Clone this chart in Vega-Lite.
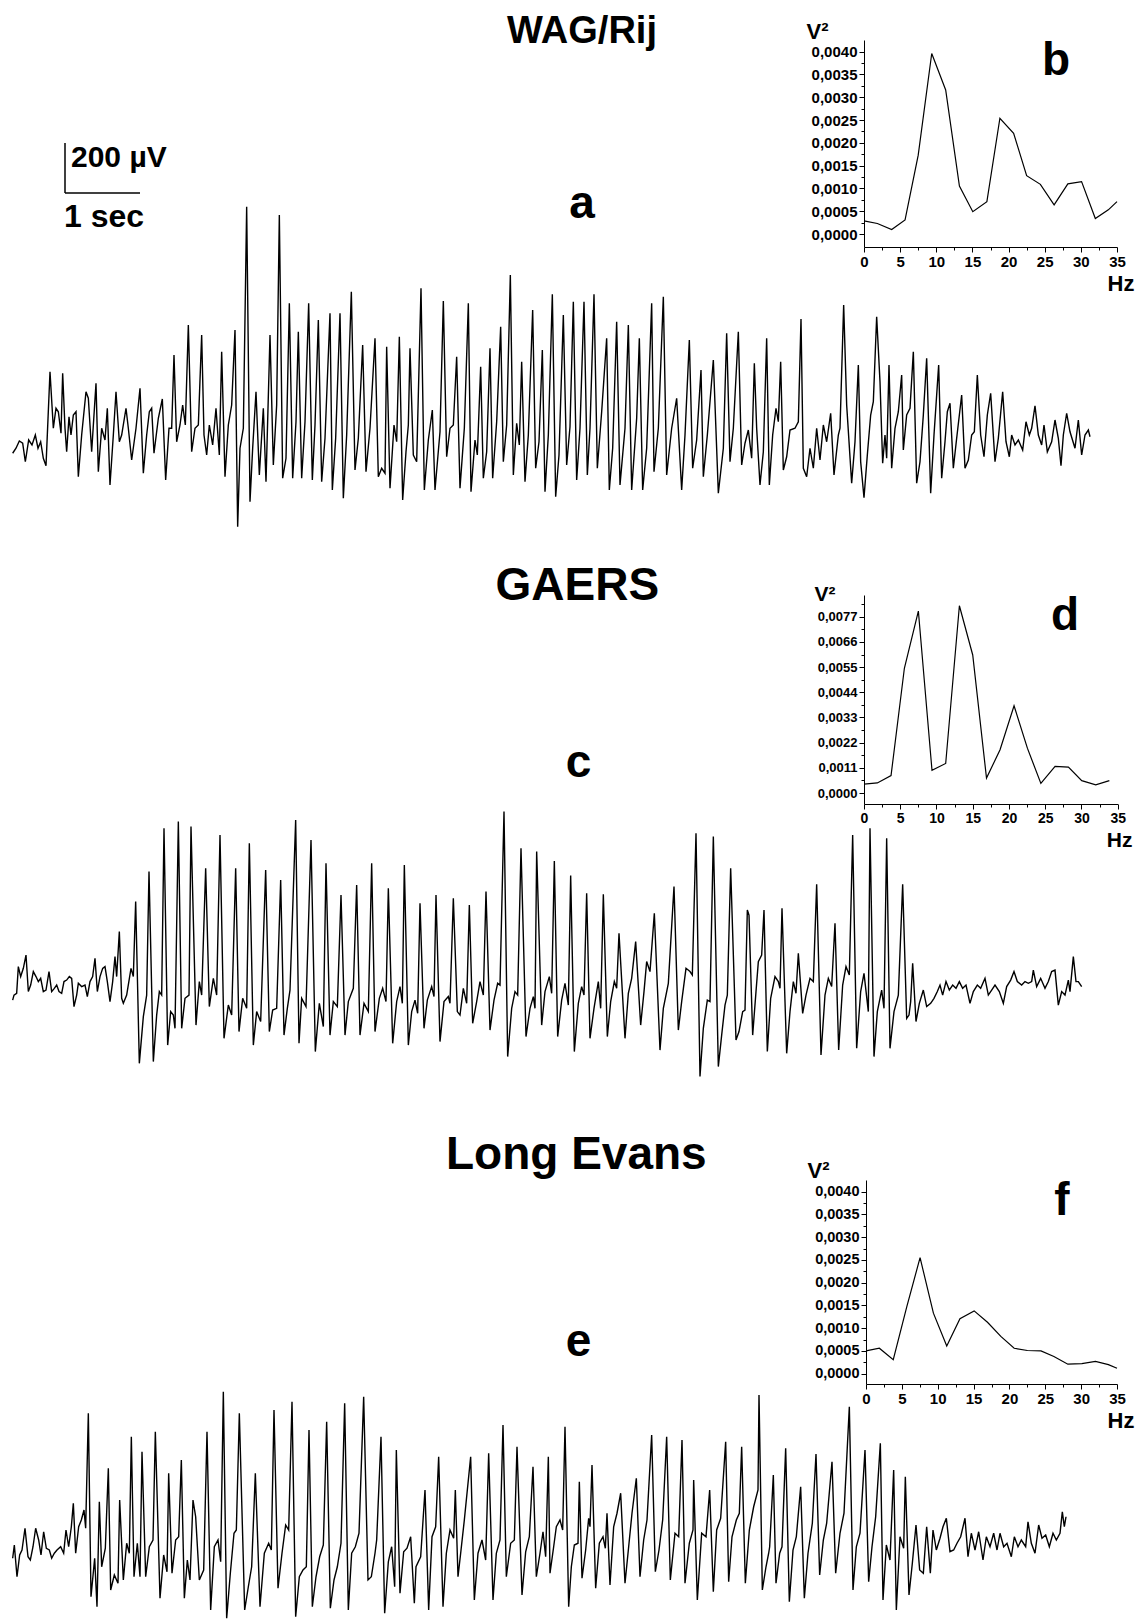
{
"$schema": "https://vega.github.io/schema/vega-lite/v6.json",
"width": 1138, "height": 1620, "padding": 0, "autosize": {"type": "none"},
"background": "white",
"config": {"view": {"stroke": null},
 "axis": {"labelFont": "Liberation Sans", "labelFontWeight": "bold", "labelColor": "black", "titleFont": "Liberation Sans", "titleFontWeight": "bold", "titleColor": "black", "domainColor": "black", "tickColor": "black", "grid": false, "labelFlush": false, "labelOverlap": false, "labelPadding": 2}},
"datasets": {
"traceA": [{"s":38,"v":-85},{"s":48,"v":-65},{"s":58,"v":-36},{"s":68,"v":-45},{"s":76,"v":-119},{"s":86,"v":-32},{"s":96,"v":-52},{"s":106,"v":-12},{"s":114,"v":-65},{"s":122,"v":-39},{"s":130,"v":-105},{"s":138,"v":-135},{"s":150,"v":241},{"s":160,"v":15},{"s":168,"v":95},{"s":175,"v":81},{"s":183,"v":-5},{"s":188,"v":235},{"s":195,"v":15},{"s":200,"v":-79},{"s":207,"v":61},{"s":213,"v":-12},{"s":220,"v":68},{"s":228,"v":81},{"s":235,"v":-179},{"s":245,"v":-12},{"s":258,"v":161},{"s":265,"v":135},{"s":275,"v":-79},{"s":288,"v":195},{"s":295,"v":-159},{"s":305,"v":15},{"s":315,"v":-32},{"s":322,"v":95},{"s":330,"v":-212},{"s":340,"v":-12},{"s":348,"v":161},{"s":358,"v":-39},{"s":365,"v":-12},{"s":378,"v":95},{"s":385,"v":15},{"s":395,"v":-112},{"s":408,"v":15},{"s":420,"v":175},{"s":430,"v":-165},{"s":440,"v":-12},{"s":448,"v":81},{"s":455,"v":95},{"s":462,"v":-85},{"s":475,"v":55},{"s":487,"v":132},{"s":497,"v":-192},{"s":507,"v":15},{"s":515,"v":15},{"s":522,"v":308},{"s":530,"v":-39},{"s":540,"v":28},{"s":548,"v":108},{"s":556,"v":28},{"s":565,"v":428},{"s":575,"v":-79},{"s":585,"v":15},{"s":595,"v":28},{"s":605,"v":388},{"s":612,"v":-12},{"s":620,"v":-92},{"s":628,"v":28},{"s":638,"v":-52},{"s":648,"v":95},{"s":658,"v":-92},{"s":665,"v":321},{"s":675,"v":-179},{"s":685,"v":28},{"s":695,"v":108},{"s":705,"v":408},{"s":713,"v":-379},{"s":720,"v":-65},{"s":730,"v":15},{"s":740,"v":901},{"s":750,"v":-279},{"s":758,"v":-65},{"s":768,"v":161},{"s":778,"v":-172},{"s":790,"v":95},{"s":798,"v":-199},{"s":810,"v":388},{"s":820,"v":-132},{"s":830,"v":108},{"s":838,"v":868},{"s":848,"v":-185},{"s":858,"v":-105},{"s":868,"v":515},{"s":878,"v":-185},{"s":888,"v":41},{"s":895,"v":401},{"s":905,"v":-185},{"s":915,"v":41},{"s":926,"v":515},{"s":937,"v":-192},{"s":945,"v":28},{"s":955,"v":448},{"s":965,"v":-199},{"s":975,"v":-25},{"s":990,"v":475},{"s":997,"v":-232},{"s":1007,"v":-25},{"s":1020,"v":475},{"s":1030,"v":-265},{"s":1040,"v":-12},{"s":1054,"v":561},{"s":1065,"v":-152},{"s":1075,"v":-25},{"s":1088,"v":348},{"s":1098,"v":-159},{"s":1110,"v":15},
{"s":1125,"v":375},{"s":1135,"v":-179},{"s":1145,"v":-145},{"s":1155,"v":-165},{"s":1160,"v":341},{"s":1170,"v":-225},{"s":1182,"v":28},{"s":1190,"v":-39},{"s":1198,"v":381},{"s":1208,"v":-272},{"s":1218,"v":-79},{"s":1225,"v":28},{"s":1230,"v":335},{"s":1240,"v":-92},{"s":1250,"v":-119},{"s":1263,"v":575},{"s":1273,"v":-232},{"s":1285,"v":-32},{"s":1297,"v":88},{"s":1305,"v":-232},{"s":1320,"v":1},{"s":1330,"v":524},{"s":1340,"v":-99},{"s":1350,"v":15},{"s":1360,"v":28},{"s":1370,"v":301},{"s":1380,"v":-225},{"s":1393,"v":15},{"s":1405,"v":515},{"s":1413,"v":-239},{"s":1425,"v":-32},{"s":1432,"v":-92},{"s":1442,"v":261},{"s":1450,"v":-185},{"s":1460,"v":-79},{"s":1470,"v":335},{"s":1478,"v":-185},{"s":1490,"v":41},{"s":1502,"v":421},{"s":1510,"v":-119},{"s":1520,"v":28},{"s":1531,"v":628},{"s":1540,"v":-172},{"s":1550,"v":35},{"s":1558,"v":-52},{"s":1565,"v":281},{"s":1575,"v":-199},{"s":1585,"v":-12},{"s":1598,"v":488},{"s":1607,"v":-145},{"s":1617,"v":-39},{"s":1627,"v":328},{"s":1635,"v":-239},{"s":1645,"v":-12},{"s":1657,"v":551},{"s":1667,"v":-259},{"s":1677,"v":-92},{"s":1690,"v":468},{"s":1700,"v":-132},{"s":1710,"v":21},{"s":1720,"v":521},{"s":1730,"v":-192},{"s":1740,"v":15},{"s":1752,"v":521},{"s":1762,"v":-172},{"s":1770,"v":15},{"s":1782,"v":551},{"s":1792,"v":-145},{"s":1805,"v":81},{"s":1820,"v":375},{"s":1828,"v":-232},{"s":1838,"v":-65},{"s":1850,"v":441},{"s":1860,"v":-212},{"s":1875,"v":15},{"s":1885,"v":428},{"s":1895,"v":-232},{"s":1910,"v":55},{"s":1918,"v":375},{"s":1928,"v":-232},{"s":1940,"v":-65},{"s":1955,"v":515},{"s":1962,"v":-159},{"s":1975,"v":15},{"s":1990,"v":541},{"s":2000,"v":-172},{"s":2015,"v":15},{"s":2030,"v":135},{"s":2045,"v":-232},{"s":2055,"v":-12},{"s":2068,"v":368},{"s":2078,"v":-145},{"s":2090,"v":-32},{"s":2103,"v":248},{"s":2110,"v":-179},{"s":2122,"v":-12},{"s":2140,"v":288},{"s":2155,"v":-245},{"s":2170,"v":-65},{"s":2180,"v":395},{"s":2190,"v":-119},{"s":2200,"v":15},{"s":2215,"v":401},
{"s":2225,"v":-132},{"s":2235,"v":-45},{"s":2245,"v":8},{"s":2255,"v":-105},{"s":2263,"v":275},{"s":2270,"v":15},{"s":2280,"v":-212},{"s":2290,"v":-79},{"s":2300,"v":375},{"s":2308,"v":-212},{"s":2318,"v":-12},{"s":2328,"v":95},{"s":2335,"v":41},{"s":2342,"v":281},{"s":2350,"v":-152},{"s":2360,"v":-99},{"s":2370,"v":8},{"s":2385,"v":15},{"s":2395,"v":41},{"s":2403,"v":452},{"s":2410,"v":-145},{"s":2420,"v":-179},{"s":2430,"v":-65},{"s":2440,"v":-145},{"s":2450,"v":15},{"s":2460,"v":-112},{"s":2470,"v":28},{"s":2480,"v":-39},{"s":2492,"v":75},{"s":2502,"v":-172},{"s":2515,"v":-12},{"s":2520,"v":15},{"s":2531,"v":508},{"s":2540,"v":108},{"s":2555,"v":-205},{"s":2565,"v":-39},{"s":2575,"v":268},{"s":2582,"v":-119},{"s":2592,"v":-263},{"s":2602,"v":-92},{"s":2612,"v":68},{"s":2620,"v":121},{"s":2630,"v":461},{"s":2640,"v":201},{"s":2648,"v":-125},{"s":2655,"v":-12},{"s":2660,"v":-105},{"s":2667,"v":268},{"s":2675,"v":-145},{"s":2685,"v":15},{"s":2695,"v":81},{"s":2705,"v":228},{"s":2710,"v":-72},{"s":2720,"v":68},{"s":2730,"v":95},{"s":2740,"v":321},{"s":2750,"v":-205},{"s":2760,"v":-119},{"s":2770,"v":68},{"s":2780,"v":295},{"s":2792,"v":-245},{"s":2802,"v":-12},{"s":2816,"v":268},{"s":2825,"v":-185},{"s":2835,"v":-39},{"s":2842,"v":81},{"s":2850,"v":115},{"s":2860,"v":-145},{"s":2870,"v":-25},{"s":2885,"v":148},{"s":2895,"v":-145},{"s":2905,"v":-112},{"s":2915,"v":-12},{"s":2923,"v":1},{"s":2932,"v":228},{"s":2942,"v":-12},{"s":2952,"v":-99},{"s":2962,"v":68},{"s":2972,"v":155},{"s":2985,"v":-119},{"s":2995,"v":-25},{"s":3008,"v":161},{"s":3018,"v":-39},{"s":3028,"v":-99},{"s":3035,"v":-12},{"s":3045,"v":-52},{"s":3055,"v":-32},{"s":3068,"v":-72},{"s":3078,"v":41},{"s":3088,"v":-12},{"s":3095,"v":15},{"s":3105,"v":105},{"s":3115,"v":-12},{"s":3125,"v":-52},{"s":3132,"v":28},{"s":3142,"v":-79},{"s":3155,"v":-39},{"s":3165,"v":48},{"s":3175,"v":-25},{"s":3183,"v":-135},{"s":3190,"v":-12},{"s":3200,"v":75},{"s":3210,"v":1},{"s":3225,"v":-65},{"s":3235,"v":48},{"s":3245,"v":-92},{"s":3255,"v":-12},{"s":3265,"v":8},{"s":3270,"v":-19}],
"traceC": [{"s":38,"v":-47},{"s":42,"v":-27},{"s":50,"v":-20},{"s":55,"v":87},{"s":62,"v":47},{"s":70,"v":80},{"s":78,"v":133},{"s":85,"v":-13},{"s":92,"v":13},{"s":100,"v":67},{"s":108,"v":47},{"s":115,"v":27},{"s":122,"v":40},{"s":130,"v":-13},{"s":138,"v":-7},{"s":147,"v":67},{"s":155,"v":-13},{"s":163,"v":0},{"s":170,"v":13},{"s":177,"v":-13},{"s":185,"v":-20},{"s":192,"v":27},{"s":200,"v":33},{"s":208,"v":47},{"s":215,"v":40},{"s":222,"v":-73},{"s":230,"v":-27},{"s":235,"v":20},{"s":245,"v":7},{"s":255,"v":13},{"s":262,"v":-33},{"s":270,"v":27},{"s":278,"v":47},{"s":285,"v":120},{"s":292,"v":-13},{"s":300,"v":47},{"s":308,"v":80},{"s":315,"v":87},{"s":322,"v":27},{"s":330,"v":-53},{"s":338,"v":27},{"s":345,"v":127},{"s":350,"v":47},{"s":358,"v":227},{"s":365,"v":-40},{"s":370,"v":-60},{"s":380,"v":-27},{"s":393,"v":80},{"s":400,"v":47},{"s":407,"v":347},{"s":418,"v":-300},{"s":430,"v":-113},{"s":440,"v":-27},{"s":447,"v":467},{"s":460,"v":-293},{"s":470,"v":-107},{"s":478,"v":-13},{"s":485,"v":-27},{"s":492,"v":640},{"s":503,"v":-227},{"s":512,"v":-93},{"s":520,"v":-107},{"s":525,"v":-160},{"s":535,"v":667},{"s":545,"v":-160},{"s":555,"v":-40},{"s":567,"v":-27},{"s":573,"v":647},{"s":588,"v":-147},{"s":598,"v":27},{"s":605,"v":-27},{"s":617,"v":480},{"s":628,"v":-73},{"s":640,"v":40},{"s":650,"v":-27},{"s":660,"v":613},{"s":672,"v":-200},{"s":685,"v":-67},{"s":695,"v":-107},{"s":707,"v":480},{"s":717,"v":-173},{"s":728,"v":-40},{"s":740,"v":-80},{"s":748,"v":580},{"s":760,"v":-227},{"s":770,"v":-93},{"s":782,"v":-133},{"s":797,"v":473},{"s":808,"v":-173},{"s":818,"v":-87},{"s":830,"v":-80},{"s":842,"v":433},{"s":852,"v":-187},{"s":862,"v":-80},{"s":870,"v":-7},{"s":887,"v":673},{"s":897,"v":-220},{"s":905,"v":-40},{"s":918,"v":-73},{"s":933,"v":593},{"s":946,"v":-253},{"s":958,"v":-60},{"s":970,"v":-153},{"s":978,"v":500},{"s":990,"v":-187},{"s":1000,"v":-53},{"s":1012,"v":-73},{"s":1023,"v":373},{"s":1035,"v":-187},{"s":1045,"v":-53},{"s":1060,"v":0},{"s":1070,"v":413},{"s":1080,"v":-187},{"s":1092,"v":-60},{"s":1105,"v":-93},
{"s":1115,"v":500},{"s":1125,"v":-173},{"s":1138,"v":-40},{"s":1148,"v":0},{"s":1158,"v":-53},{"s":1165,"v":400},{"s":1178,"v":-220},{"s":1190,"v":-53},{"s":1200,"v":7},{"s":1207,"v":-60},{"s":1213,"v":493},{"s":1225,"v":-227},{"s":1235,"v":-93},{"s":1245,"v":-47},{"s":1253,"v":-100},{"s":1260,"v":340},{"s":1272,"v":-160},{"s":1282,"v":-47},{"s":1295,"v":7},{"s":1302,"v":-33},{"s":1308,"v":373},{"s":1320,"v":-213},{"s":1332,"v":-53},{"s":1345,"v":-33},{"s":1350,"v":-60},{"s":1360,"v":360},{"s":1372,"v":-93},{"s":1380,"v":-107},{"s":1390,"v":0},{"s":1400,"v":-60},{"s":1408,"v":333},{"s":1418,"v":-140},{"s":1430,"v":-53},{"s":1440,"v":27},{"s":1450,"v":-27},{"s":1458,"v":387},{"s":1470,"v":-167},{"s":1482,"v":-47},{"s":1493,"v":20},{"s":1500,"v":13},{"s":1512,"v":707},{"s":1523,"v":-273},{"s":1535,"v":-80},{"s":1545,"v":-13},{"s":1553,"v":-27},{"s":1563,"v":560},{"s":1578,"v":-193},{"s":1590,"v":-80},{"s":1600,"v":-33},{"s":1605,"v":-80},{"s":1610,"v":547},{"s":1625,"v":-147},{"s":1635,"v":-13},{"s":1648,"v":47},{"s":1655,"v":-20},{"s":1663,"v":509},{"s":1673,"v":-193},{"s":1685,"v":-47},{"s":1695,"v":20},{"s":1705,"v":-67},{"s":1712,"v":451},{"s":1723,"v":-253},{"s":1735,"v":-60},{"s":1745,"v":7},{"s":1752,"v":-27},{"s":1760,"v":380},{"s":1770,"v":-200},{"s":1782,"v":-80},{"s":1795,"v":27},{"s":1802,"v":-80},{"s":1810,"v":376},{"s":1822,"v":-193},{"s":1832,"v":-53},{"s":1843,"v":27},{"s":1850,"v":0},{"s":1857,"v":220},{"s":1875,"v":-200},{"s":1885,"v":-20},{"s":1895,"v":40},{"s":1907,"v":187},{"s":1922,"v":-147},{"s":1932,"v":-13},{"s":1940,"v":107},{"s":1950,"v":67},{"s":1963,"v":300},{"s":1980,"v":-247},{"s":1990,"v":-80},{"s":2005,"v":20},{"s":2022,"v":407},{"s":2035,"v":-167},{"s":2045,"v":-53},{"s":2058,"v":80},{"s":2070,"v":67},{"s":2077,"v":53},{"s":2088,"v":620},{"s":2100,"v":-353},{"s":2110,"v":-160},{"s":2122,"v":-47},{"s":2130,"v":-53},{"s":2140,"v":607},{"s":2155,"v":-313},{"s":2165,"v":-187},{"s":2175,"v":-67},{"s":2182,"v":-27},{"s":2192,"v":480},{"s":2208,"v":-207},{"s":2217,"v":-173},{"s":2228,"v":-93},{"s":2235,"v":-87},
{"s":2242,"v":313},{"s":2247,"v":293},{"s":2258,"v":-187},{"s":2268,"v":-13},{"s":2275,"v":107},{"s":2285,"v":133},{"s":2292,"v":313},{"s":2302,"v":-253},{"s":2312,"v":-40},{"s":2325,"v":47},{"s":2335,"v":27},{"s":2340,"v":0},{"s":2346,"v":320},{"s":2360,"v":-260},{"s":2370,"v":-93},{"s":2380,"v":27},{"s":2388,"v":-20},{"s":2395,"v":140},{"s":2408,"v":-100},{"s":2418,"v":-27},{"s":2430,"v":40},{"s":2440,"v":27},{"s":2450,"v":416},{"s":2463,"v":-267},{"s":2475,"v":-27},{"s":2485,"v":40},{"s":2495,"v":7},{"s":2505,"v":260},{"s":2516,"v":-247},{"s":2528,"v":13},{"s":2538,"v":87},{"s":2548,"v":53},{"s":2558,"v":613},{"s":2570,"v":-240},{"s":2582,"v":-13},{"s":2592,"v":60},{"s":2605,"v":-93},{"s":2610,"v":640},{"s":2622,"v":-273},{"s":2632,"v":-93},{"s":2645,"v":-7},{"s":2652,"v":-80},{"s":2660,"v":600},{"s":2670,"v":-240},{"s":2682,"v":-93},{"s":2695,"v":-27},{"s":2708,"v":416},{"s":2720,"v":-120},{"s":2727,"v":-107},{"s":2732,"v":-53},{"s":2738,"v":100},{"s":2748,"v":-133},{"s":2758,"v":-60},{"s":2770,"v":-7},{"s":2780,"v":-73},{"s":2792,"v":-60},{"s":2802,"v":-40},{"s":2812,"v":-13},{"s":2820,"v":13},{"s":2828,"v":-27},{"s":2838,"v":27},{"s":2848,"v":-7},{"s":2858,"v":13},{"s":2868,"v":0},{"s":2878,"v":27},{"s":2888,"v":0},{"s":2898,"v":13},{"s":2910,"v":-60},{"s":2920,"v":-13},{"s":2932,"v":13},{"s":2942,"v":0},{"s":2955,"v":40},{"s":2965,"v":-27},{"s":2975,"v":-7},{"s":2985,"v":13},{"s":2998,"v":-13},{"s":3010,"v":-60},{"s":3020,"v":7},{"s":3032,"v":33},{"s":3042,"v":67},{"s":3052,"v":27},{"s":3065,"v":13},{"s":3075,"v":27},{"s":3085,"v":20},{"s":3095,"v":27},{"s":3100,"v":73},{"s":3110,"v":7},{"s":3122,"v":40},{"s":3135,"v":0},{"s":3145,"v":27},{"s":3155,"v":67},{"s":3165,"v":73},{"s":3175,"v":-67},{"s":3185,"v":-13},{"s":3195,"v":-27},{"s":3205,"v":33},{"s":3210,"v":-13},{"s":3220,"v":127},{"s":3228,"v":27},{"s":3235,"v":27},{"s":3245,"v":7}],
"traceE": [{"s":38,"v":-33},{"s":43,"v":20},{"s":51,"v":-107},{"s":59,"v":-20},{"s":66,"v":0},{"s":75,"v":87},{"s":84,"v":-27},{"s":91,"v":-40},{"s":99,"v":13},{"s":107,"v":87},{"s":116,"v":40},{"s":123,"v":-20},{"s":131,"v":73},{"s":139,"v":7},{"s":148,"v":0},{"s":155,"v":-33},{"s":163,"v":-13},{"s":171,"v":0},{"s":182,"v":13},{"s":191,"v":-13},{"s":198,"v":80},{"s":206,"v":13},{"s":214,"v":93},{"s":220,"v":187},{"s":227,"v":-13},{"s":236,"v":93},{"s":244,"v":120},{"s":252,"v":160},{"s":257,"v":87},{"s":265,"v":547},{"s":273,"v":-187},{"s":284,"v":-33},{"s":291,"v":-227},{"s":298,"v":193},{"s":305,"v":-67},{"s":316,"v":7},{"s":325,"v":327},{"s":332,"v":-160},{"s":343,"v":-100},{"s":354,"v":-133},{"s":359,"v":200},{"s":370,"v":-120},{"s":380,"v":27},{"s":388,"v":-13},{"s":394,"v":453},{"s":402,"v":-107},{"s":412,"v":27},{"s":420,"v":-107},{"s":426,"v":393},{"s":437,"v":-107},{"s":448,"v":13},{"s":459,"v":40},{"s":466,"v":473},{"s":480,"v":-193},{"s":491,"v":-20},{"s":501,"v":-87},{"s":506,"v":307},{"s":516,"v":-93},{"s":527,"v":40},{"s":536,"v":53},{"s":544,"v":360},{"s":553,"v":-193},{"s":562,"v":-40},{"s":570,"v":-120},{"s":579,"v":200},{"s":587,"v":133},{"s":598,"v":-120},{"s":611,"v":-80},{"s":621,"v":473},{"s":632,"v":-240},{"s":643,"v":13},{"s":654,"v":40},{"s":662,"v":-47},{"s":670,"v":633},{"s":680,"v":-273},{"s":691,"v":-93},{"s":702,"v":67},{"s":709,"v":80},{"s":718,"v":547},{"s":734,"v":-240},{"s":745,"v":-147},{"s":755,"v":-67},{"s":766,"v":307},{"s":780,"v":-227},{"s":793,"v":-13},{"s":806,"v":27},{"s":814,"v":0},{"s":822,"v":560},{"s":834,"v":-153},{"s":846,"v":-13},{"s":857,"v":100},{"s":866,"v":80},{"s":876,"v":593},{"s":887,"v":-267},{"s":898,"v":-107},{"s":909,"v":-80},{"s":919,"v":-67},{"s":927,"v":480},{"s":937,"v":-227},{"s":948,"v":-107},{"s":959,"v":-27},{"s":970,"v":20},{"s":980,"v":513},{"s":991,"v":-233},{"s":1002,"v":-120},{"s":1012,"v":-67},{"s":1023,"v":27},{"s":1034,"v":587},{"s":1045,"v":-240},{"s":1055,"v":-13},{"s":1066,"v":13},{"s":1077,"v":67},{"s":1091,"v":613},{"s":1104,"v":-120},{"s":1114,"v":-107},{"s":1125,"v":-13},{"s":1130,"v":40},{"s":1143,"v":453},{"s":1154,"v":-253},{"s":1165,"v":-47},{"s":1175,"v":13},{"s":1184,"v":-147},{"s":1189,"v":400},{"s":1200,"v":-173},{"s":1211,"v":-7},{"s":1221,"v":7},{"s":1232,"v":53},{"s":1243,"v":-213},{"s":1248,"v":-67},{"s":1262,"v":-27},{"s":1275,"v":240},{"s":1286,"v":-240},{"s":1296,"v":53},{"s":1307,"v":93},{"s":1316,"v":373},{"s":1329,"v":-227},{"s":1339,"v":-13},{"s":1350,"v":80},{"s":1361,"v":47},{"s":1366,"v":240},{"s":1374,"v":-107},{"s":1382,"v":-13},{"s":1393,"v":120},{"s":1412,"v":373},{"s":1423,"v":-200},{"s":1434,"v":-13},{"s":1446,"v":40},{"s":1457,"v":-40},{"s":1466,"v":387},{"s":1479,"v":-200},{"s":1489,"v":-13},{"s":1500,"v":40},{"s":1509,"v":500},{"s":1519,"v":-107},{"s":1532,"v":27},{"s":1543,"v":40},{"s":1551,"v":413},{"s":1566,"v":-180},{"s":1577,"v":-7},{"s":1588,"v":53},{"s":1599,"v":333},{"s":1609,"v":-107},{"s":1620,"v":-13},{"s":1629,"v":73},{"s":1637,"v":-27},{"s":1645,"v":373},
{"s":1650,"v":-93},{"s":1661,"v":13},{"s":1669,"v":93},{"s":1680,"v":120},{"s":1688,"v":80},{"s":1695,"v":493},{"s":1706,"v":-227},{"s":1714,"v":-67},{"s":1723,"v":20},{"s":1734,"v":27},{"s":1738,"v":273},{"s":1746,"v":-113},{"s":1757,"v":0},{"s":1766,"v":127},{"s":1770,"v":93},{"s":1776,"v":340},{"s":1787,"v":-153},{"s":1798,"v":27},{"s":1809,"v":53},{"s":1816,"v":7},{"s":1821,"v":147},{"s":1830,"v":-140},{"s":1841,"v":93},{"s":1851,"v":147},{"s":1862,"v":227},{"s":1875,"v":-133},{"s":1886,"v":13},{"s":1896,"v":147},{"s":1909,"v":287},{"s":1920,"v":-107},{"s":1931,"v":40},{"s":1941,"v":120},{"s":1955,"v":460},{"s":1966,"v":-87},{"s":1977,"v":0},{"s":1988,"v":120},{"s":2000,"v":453},{"s":2011,"v":-120},{"s":2025,"v":67},{"s":2036,"v":53},{"s":2046,"v":440},{"s":2055,"v":-133},{"s":2068,"v":27},{"s":2079,"v":80},{"s":2081,"v":280},{"s":2092,"v":-200},{"s":2105,"v":67},{"s":2118,"v":53},{"s":2129,"v":240},{"s":2140,"v":-167},{"s":2150,"v":80},{"s":2162,"v":127},{"s":2177,"v":433},{"s":2186,"v":-127},{"s":2196,"v":53},{"s":2209,"v":120},{"s":2218,"v":147},{"s":2225,"v":413},{"s":2236,"v":-133},{"s":2248,"v":80},{"s":2261,"v":173},{"s":2274,"v":240},{"s":2277,"v":620},{"s":2287,"v":-160},{"s":2298,"v":-67},{"s":2306,"v":-13},{"s":2309,"v":13},{"s":2320,"v":300},{"s":2328,"v":-133},{"s":2339,"v":-13},{"s":2346,"v":13},{"s":2357,"v":407},{"s":2368,"v":-207},{"s":2379,"v":0},{"s":2389,"v":53},{"s":2402,"v":253},{"s":2413,"v":-193},{"s":2424,"v":-13},{"s":2437,"v":107},{"s":2448,"v":384},{"s":2459,"v":-100},{"s":2470,"v":40},{"s":2480,"v":107},{"s":2496,"v":353},{"s":2507,"v":-93},{"s":2520,"v":67},{"s":2532,"v":147},{"s":2548,"v":573},{"s":2559,"v":-160},{"s":2569,"v":13},{"s":2580,"v":67},{"s":2595,"v":400},{"s":2606,"v":-127},{"s":2616,"v":13},{"s":2627,"v":133},{"s":2641,"v":427},{"s":2649,"v":-200},{"s":2659,"v":20},{"s":2670,"v":-40},{"s":2681,"v":320},{"s":2689,"v":-240},{"s":2700,"v":53},{"s":2711,"v":7},{"s":2716,"v":293},{"s":2727,"v":-180},{"s":2737,"v":-53},{"s":2748,"v":100},{"s":2759,"v":-80},{"s":2770,"v":-93},{"s":2780,"v":93},{"s":2791,"v":-93},{"s":2799,"v":80},{"s":2809,"v":0},{"s":2820,"v":47},{"s":2829,"v":93},{"s":2839,"v":127},{"s":2850,"v":-7},{"s":2861,"v":0},{"s":2871,"v":27},{"s":2882,"v":53},{"s":2895,"v":127},{"s":2904,"v":-27},{"s":2914,"v":67},{"s":2925,"v":0},{"s":2936,"v":73},{"s":2949,"v":-40},{"s":2959,"v":53},{"s":2970,"v":13},{"s":2981,"v":67},{"s":2991,"v":0},{"s":3000,"v":67},{"s":3011,"v":13},{"s":3021,"v":27},{"s":3034,"v":-27},{"s":3043,"v":53},{"s":3054,"v":13},{"s":3064,"v":40},{"s":3077,"v":13},{"s":3084,"v":113},{"s":3094,"v":27},{"s":3105,"v":-13},{"s":3116,"v":100},{"s":3126,"v":47},{"s":3137,"v":60},{"s":3148,"v":13},{"s":3159,"v":67},{"s":3169,"v":40},{"s":3180,"v":67},{"s":3187,"v":153},{"s":3193,"v":93},{"s":3198,"v":133}],
"specB": [{"hz":0,"p":0.00029},{"hz":1.85,"p":0.00023},{"hz":3.83,"p":0.0001},{"hz":5.68,"p":0.00031},{"hz":7.5,"p":0.00173},{"hz":9.37,"p":0.00396},{"hz":11.3,"p":0.00316},{"hz":13.2,"p":0.00105},{"hz":15.05,"p":0.00049},{"hz":17,"p":0.00071},{"hz":18.8,"p":0.00254},{"hz":20.7,"p":0.00221},{"hz":22.5,"p":0.00128},{"hz":24.4,"p":0.00109},{"hz":26.3,"p":0.00064},{"hz":28.2,"p":0.0011},{"hz":30.1,"p":0.00115},{"hz":32,"p":0.00034},{"hz":33.8,"p":0.00053},{"hz":35,"p":0.00071}],
"specD": [{"hz":0,"p":0.00039},{"hz":1.84,"p":0.00044},{"hz":3.73,"p":0.00076},{"hz":5.57,"p":0.00545},{"hz":7.5,"p":0.00795},{"hz":9.38,"p":0.00099},{"hz":11.27,"p":0.00129},{"hz":13.16,"p":0.00818},{"hz":15,"p":0.00603},{"hz":16.9,"p":0.00065},{"hz":18.77,"p":0.00189},{"hz":20.7,"p":0.00381},{"hz":22.54,"p":0.00196},{"hz":24.4,"p":0.00042},{"hz":26.36,"p":0.00116},{"hz":28.2,"p":0.00113},{"hz":30.04,"p":0.00054},{"hz":31.97,"p":0.00036},{"hz":33.85,"p":0.00054}],
"specF": [{"hz":0,"p":0.0005},{"hz":1.86,"p":0.00056},{"hz":3.8,"p":0.00031},{"hz":5.7,"p":0.00148},{"hz":7.54,"p":0.00255},{"hz":9.4,"p":0.00133},{"hz":11.26,"p":0.00061},{"hz":13.1,"p":0.00121},{"hz":15.08,"p":0.00138},{"hz":16.94,"p":0.00113},{"hz":18.8,"p":0.00082},{"hz":20.66,"p":0.00056},{"hz":22.5,"p":0.00051},{"hz":24.4,"p":0.0005},{"hz":26.2,"p":0.00038},{"hz":28.15,"p":0.00021},{"hz":30.1,"p":0.00022},{"hz":32,"p":0.00027},{"hz":33.8,"p":0.0002},{"hz":35,"p":0.00012}],
"scalebar": [{"s1":195,"s2":195,"v1":956,"v2":1156},{"s1":195,"s2":420,"v1":956,"v2":956}]
},
"layer": [
{"layer": [
 {"data": {"name": "traceA"}, "mark": {"type": "line", "color": "black", "strokeWidth": 1.4},
  "encoding": {"x": {"field": "s", "type": "quantitative", "scale": {"domain": [0, 3414], "nice": false, "zero": false}, "axis": null},
   "y": {"field": "v", "type": "quantitative", "scale": {"domain": [-400, 928], "range": [532, 200], "nice": false, "zero": false}, "axis": null}}},
 {"data": {"name": "scalebar"}, "mark": {"type": "rule", "color": "black", "strokeWidth": 1.5},
  "encoding": {"x": {"field": "s1", "type": "quantitative", "axis": null}, "x2": {"field": "s2"}, "y": {"field": "v1", "type": "quantitative", "axis": null}, "y2": {"field": "v2"}}},
 {"data": {"values": [{}]}, "mark": {"type": "text", "text": "WAG/Rij", "font": "Liberation Sans", "fontWeight": "bold", "fontSize": 38, "align": "center", "baseline": "alphabetic"},
  "encoding": {"x": {"datum": 1746, "type": "quantitative", "axis": null}, "y": {"datum": 1556, "type": "quantitative", "axis": null}}},
 {"data": {"values": [{}]}, "mark": {"type": "text", "text": "a", "font": "Liberation Sans", "fontWeight": "bold", "fontSize": 46, "align": "center", "baseline": "alphabetic"},
  "encoding": {"x": {"datum": 1746, "type": "quantitative", "axis": null}, "y": {"datum": 856, "type": "quantitative", "axis": null}}},
 {"data": {"values": [{}]}, "mark": {"type": "text", "text": "200 µV", "font": "Liberation Sans", "fontWeight": "bold", "fontSize": 30, "align": "left", "baseline": "alphabetic"},
  "encoding": {"x": {"datum": 213, "type": "quantitative", "axis": null}, "y": {"datum": 1060, "type": "quantitative", "axis": null}}},
 {"data": {"values": [{}]}, "mark": {"type": "text", "text": "1 sec", "font": "Liberation Sans", "fontWeight": "bold", "fontSize": 32, "align": "left", "baseline": "alphabetic"},
  "encoding": {"x": {"datum": 192, "type": "quantitative", "axis": null}, "y": {"datum": 820, "type": "quantitative", "axis": null}}}
]},
{"data": {"name": "specB"}, "mark": {"type": "line", "color": "black", "strokeWidth": 1.2},
  "encoding": {
   "x": {"field": "hz", "type": "quantitative", "scale": {"domain": [0, 35], "range": [864, 1117], "nice": false, "zero": false},
    "axis": {"orient": "bottom", "offset": -1373, "values": [0,5,10,15,20,25,30,35], "labelExpr": "format(datum.value, 'd')", "tickSize": 5, "labelFontSize": 15, "title": "Hz", "titleX": 1134, "titleY": 43, "titleAlign": "right", "titleBaseline": "alphabetic", "titleFontSize": 22}},
   "y": {"field": "p", "type": "quantitative", "scale": {"domain": [-0.000285, 0.004256], "range": [247, 40], "nice": false, "zero": false},
    "axis": {"orient": "left", "offset": -864, "values": [0,0.0005,0.001,0.0015,0.002,0.0025,0.003,0.0035,0.004], "labelExpr": "replace(format(datum.value, '.4f'), '.', ',')", "tickSize": 5, "labelFontSize": 15, "title": "V²", "titleAngle": 0, "titleX": -58, "titleY": 38, "titleAlign": "left", "titleBaseline": "alphabetic", "titleFontSize": 22}}}},
{"data": {"name": "specB"}, "mark": {"type": "line", "opacity": 0},
  "encoding": {
   "x": {"field": "hz", "type": "quantitative", "scale": {"domain": [0, 35], "range": [864, 1117], "nice": false, "zero": false},
    "axis": {"orient": "bottom", "offset": -1373, "values": [2.5,7.5,12.5,17.5,22.5,27.5,32.5], "labels": false, "domain": false, "tickSize": 3, "title": null}},
   "y": {"field": "p", "type": "quantitative", "scale": {"domain": [-0.000285, 0.004256], "range": [247, 40], "nice": false, "zero": false},
    "axis": {"orient": "left", "offset": -864, "values": [0.00025,0.00075,0.00125,0.00175,0.00225,0.00275,0.00325,0.00375], "labels": false, "domain": false, "tickSize": 3, "title": null}}}},
{"data": {"values": [{}]}, "mark": {"type": "text", "text": "b", "font": "Liberation Sans", "fontWeight": "bold", "fontSize": 46, "align": "center", "baseline": "alphabetic"},
  "encoding": {"x": {"datum": 26.56, "type": "quantitative", "scale": {"domain": [0, 35], "range": [864, 1117], "nice": false, "zero": false}, "axis": null},
   "y": {"datum": 0.003488, "type": "quantitative", "scale": {"domain": [-0.000285, 0.004256], "range": [247, 40], "nice": false, "zero": false}, "axis": null}}},
{"layer": [
 {"data": {"name": "traceC"}, "mark": {"type": "line", "color": "black", "strokeWidth": 1.4},
  "encoding": {"x": {"field": "s", "type": "quantitative", "scale": {"domain": [0, 3414], "nice": false, "zero": false}, "axis": null},
   "y": {"field": "v", "type": "quantitative", "scale": {"domain": [-406.7, 753.3], "range": [1090, 800], "nice": false, "zero": false}, "axis": null}}},
 {"data": {"values": [{}]}, "mark": {"type": "text", "text": "GAERS", "font": "Liberation Sans", "fontWeight": "bold", "fontSize": 46, "align": "center", "baseline": "alphabetic"},
  "encoding": {"x": {"datum": 1732, "type": "quantitative", "axis": null}, "y": {"datum": 1555, "type": "quantitative", "axis": null}}},
 {"data": {"values": [{}]}, "mark": {"type": "text", "text": "c", "font": "Liberation Sans", "fontWeight": "bold", "fontSize": 46, "align": "center", "baseline": "alphabetic"},
  "encoding": {"x": {"datum": 1736, "type": "quantitative", "axis": null}, "y": {"datum": 844, "type": "quantitative", "axis": null}}}
]},
{"data": {"name": "specD"}, "mark": {"type": "line", "color": "black", "strokeWidth": 1.2},
  "encoding": {
   "x": {"field": "hz", "type": "quantitative", "scale": {"domain": [0, 35], "range": [864, 1117.7], "nice": false, "zero": false},
    "axis": {"orient": "bottom", "offset": -816, "values": [0,5,10,15,20,25,30,35], "labelExpr": "format(datum.value, 'd')", "tickSize": 5, "labelFontSize": 14, "title": "Hz", "titleX": 1132, "titleY": 42, "titleAlign": "right", "titleBaseline": "alphabetic", "titleFontSize": 21}},
   "y": {"field": "p", "type": "quantitative", "scale": {"domain": [-0.00048, 0.00865], "range": [804, 595], "nice": false, "zero": false},
    "axis": {"orient": "left", "offset": -864, "values": [0,0.0011,0.0022,0.0033,0.0044,0.0055,0.0066,0.0077], "labelExpr": "replace(format(datum.value, '.4f'), '.', ',')", "tickSize": 5, "labelFontSize": 13, "title": "V²", "titleAngle": 0, "titleX": -50, "titleY": 600, "titleAlign": "left", "titleBaseline": "alphabetic", "titleFontSize": 21}}}},
{"data": {"name": "specD"}, "mark": {"type": "line", "opacity": 0},
  "encoding": {
   "x": {"field": "hz", "type": "quantitative", "scale": {"domain": [0, 35], "range": [864, 1117.7], "nice": false, "zero": false},
    "axis": {"orient": "bottom", "offset": -816, "values": [2.5,7.5,12.5,17.5,22.5,27.5,32.5], "labels": false, "domain": false, "tickSize": 3, "title": null}},
   "y": {"field": "p", "type": "quantitative", "scale": {"domain": [-0.00048, 0.00865], "range": [804, 595], "nice": false, "zero": false},
    "axis": {"orient": "left", "offset": -864, "values": [0.00055,0.00165,0.00275,0.00385,0.00495,0.00605,0.00715,0.00825], "labels": false, "domain": false, "tickSize": 3, "title": null}}}},
{"data": {"values": [{}]}, "mark": {"type": "text", "text": "d", "font": "Liberation Sans", "fontWeight": "bold", "fontSize": 46, "align": "center", "baseline": "alphabetic"},
  "encoding": {"x": {"datum": 27.73, "type": "quantitative", "scale": {"domain": [0, 35], "range": [864, 1117.7], "nice": false, "zero": false}, "axis": null},
   "y": {"datum": 0.007115, "type": "quantitative", "scale": {"domain": [-0.00048, 0.00865], "range": [804, 595], "nice": false, "zero": false}, "axis": null}}},
{"layer": [
 {"data": {"name": "traceE"}, "mark": {"type": "line", "color": "black", "strokeWidth": 1.4},
  "encoding": {"x": {"field": "s", "type": "quantitative", "scale": {"domain": [0, 3414], "nice": false, "zero": false}, "axis": null},
   "y": {"field": "v", "type": "quantitative", "scale": {"domain": [-280, 680], "range": [1620, 1380], "nice": false, "zero": false}, "axis": null}}},
 {"data": {"values": [{}]}, "mark": {"type": "text", "text": "Long Evans", "font": "Liberation Sans", "fontWeight": "bold", "fontSize": 46, "align": "center", "baseline": "alphabetic"},
  "encoding": {"x": {"datum": 1729, "type": "quantitative", "axis": null}, "y": {"datum": 1524, "type": "quantitative", "axis": null}}},
 {"data": {"values": [{}]}, "mark": {"type": "text", "text": "e", "font": "Liberation Sans", "fontWeight": "bold", "fontSize": 46, "align": "center", "baseline": "alphabetic"},
  "encoding": {"x": {"datum": 1736, "type": "quantitative", "axis": null}, "y": {"datum": 776, "type": "quantitative", "axis": null}}}
]},
{"data": {"name": "specF"}, "mark": {"type": "line", "color": "black", "strokeWidth": 1.2},
  "encoding": {
   "x": {"field": "hz", "type": "quantitative", "scale": {"domain": [0, 35], "range": [866, 1117], "nice": false, "zero": false},
    "axis": {"orient": "bottom", "offset": -236, "values": [0,5,10,15,20,25,30,35], "labelExpr": "format(datum.value, 'd')", "tickSize": 5, "labelFontSize": 15, "title": "Hz", "titleX": 1134, "titleY": 43, "titleAlign": "right", "titleBaseline": "alphabetic", "titleFontSize": 22}},
   "y": {"field": "p", "type": "quantitative", "scale": {"domain": [-0.000226, 0.004256], "range": [1384, 1180], "nice": false, "zero": false},
    "axis": {"orient": "left", "offset": -866, "values": [0,0.0005,0.001,0.0015,0.002,0.0025,0.003,0.0035,0.004], "labelExpr": "replace(format(datum.value, '.4f'), '.', ',')", "tickSize": 5, "labelFontSize": 14.5, "title": "V²", "titleAngle": 0, "titleX": -59, "titleY": 1177, "titleAlign": "left", "titleBaseline": "alphabetic", "titleFontSize": 22}}}},
{"data": {"name": "specF"}, "mark": {"type": "line", "opacity": 0},
  "encoding": {
   "x": {"field": "hz", "type": "quantitative", "scale": {"domain": [0, 35], "range": [866, 1117], "nice": false, "zero": false},
    "axis": {"orient": "bottom", "offset": -236, "values": [2.5,7.5,12.5,17.5,22.5,27.5,32.5], "labels": false, "domain": false, "tickSize": 3, "title": null}},
   "y": {"field": "p", "type": "quantitative", "scale": {"domain": [-0.000226, 0.004256], "range": [1384, 1180], "nice": false, "zero": false},
    "axis": {"orient": "left", "offset": -866, "values": [0.00025,0.00075,0.00125,0.00175,0.00225,0.00275,0.00325,0.00375], "labels": false, "domain": false, "tickSize": 3, "title": null}}}},
{"data": {"values": [{}]}, "mark": {"type": "text", "text": "f", "font": "Liberation Sans", "fontWeight": "bold", "fontSize": 46, "align": "center", "baseline": "alphabetic"},
  "encoding": {"x": {"datum": 27.33, "type": "quantitative", "scale": {"domain": [0, 35], "range": [866, 1117], "nice": false, "zero": false}, "axis": null},
   "y": {"datum": 0.003487, "type": "quantitative", "scale": {"domain": [-0.000226, 0.004256], "range": [1384, 1180], "nice": false, "zero": false}, "axis": null}}}
],
"resolve": {"scale": {"x": "independent", "y": "independent"}, "axis": {"x": "independent", "y": "independent"}}
}
